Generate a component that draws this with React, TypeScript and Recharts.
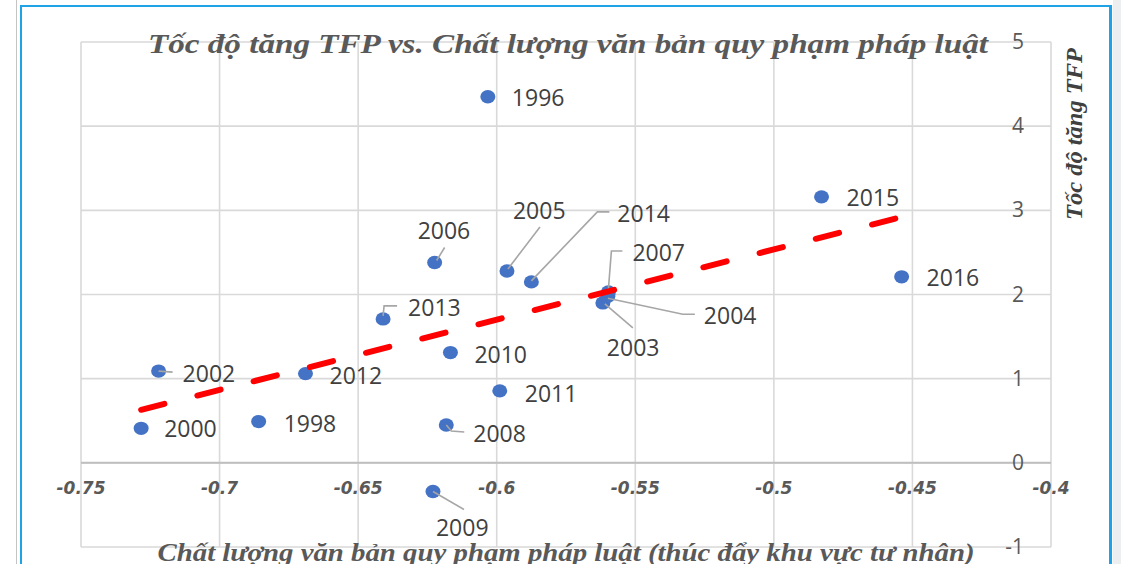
import { ScatterChart, Scatter, XAxis, YAxis, CartesianGrid, ReferenceLine } from "recharts";

// Năm quan sát
const YEARS = [1996, 1998, 2000, 2002, 2003, 2004, 2005, 2006, 2007, 2008, 2009, 2010, 2011, 2012, 2013, 2014, 2015, 2016];
// Chất lượng văn bản quy phạm pháp luật (trục hoành)
const QUALITY = [-0.6032, -0.6859, -0.7283, -0.722, -0.5617, -0.5599, -0.5963, -0.6224, -0.5597, -0.6182, -0.623, -0.6167, -0.5989, -0.669, -0.641, -0.5875, -0.4828, -0.4539];
// Tốc độ tăng TFP (trục tung)
const TFP = [4.35, 0.49, 0.41, 1.09, 1.9, 1.98, 2.28, 2.38, 2.03, 0.45, -0.34, 1.31, 0.855, 1.06, 1.71, 2.15, 3.16, 2.21];

// đường xu hướng tuyến tính
const TREND_X = [-0.7283, -0.4539];
const TREND_Y = [0.63, 2.92];

const X_TICKS = [-0.75, -0.7, -0.65, -0.6, -0.55, -0.5, -0.45, -0.4];
const Y_TICKS = [-1, 0, 1, 2, 3, 4, 5];

const TITLE = "Tốc độ tăng TFP vs. Chất lượng văn bản quy phạm pháp luật";
const X_TITLE = "Chất lượng văn bản quy phạm pháp luật (thúc đẩy khu vực tư nhân)";
const Y_TITLE = "Tốc độ tăng TFP";

const points = YEARS.map((year, i) => ({ year, x: QUALITY[i], y: TFP[i] }));
const trend = TREND_X.map((x, i) => ({ x, y: TREND_Y[i] }));

// vị trí nhãn so với điểm (px), kèm đường dẫn nếu có
const LABEL_POS: Record<number, { dx: number; dy: number; leader?: number[][] }> = {
  1996: { dx: 24, dy: 1 },
  1998: { dx: 25, dy: 2 },
  2000: { dx: 23, dy: 1 },
  2002: { dx: 24, dy: 3, leader: [[0, 0], [14, 1]] },
  2003: { dx: 4, dy: 45, leader: [[2, 1], [30, 25]] },
  2004: { dx: 96, dy: 20, leader: [[0, 2], [75, 18], [87, 18]] },
  2005: { dx: 6, dy: -60, leader: [[1, -2], [33, -44]] },
  2006: { dx: -17, dy: -32, leader: [[2, -2], [10, -15]] },
  2007: { dx: 24, dy: -39, leader: [[0, -3], [3, -41], [14, -41]] },
  2008: { dx: 27, dy: 9, leader: [[0, 0], [5, 6], [18, 7]] },
  2009: { dx: 3, dy: 37, leader: [[0, 0], [31, 18]] },
  2010: { dx: 24, dy: 2 },
  2011: { dx: 25, dy: 3 },
  2012: { dx: 24, dy: 2 },
  2013: { dx: 25, dy: -11, leader: [[0, -3], [1, -13], [14, -13]] },
  2014: { dx: 86, dy: -68, leader: [[0, -1], [66, -70], [78, -70]] },
  2015: { dx: 25, dy: 1 },
  2016: { dx: 25, dy: 1 },
};

const TEXT = "#404040";
const AXIS_TEXT = "#595959";
const BLUE = "#1fa2e6";

function Dot(props: any) {
  const { cx, cy } = props;
  return <ellipse cx={cx} cy={cy} rx={7.5} ry={6.7} fill="#4472c4" />;
}

function YearLabel(props: any) {
  const { cx, cy, payload } = props;
  const pos = LABEL_POS[payload.year] || { dx: 24, dy: 1 };
  return (
    <g>
      {pos.leader && (
        <polyline
          points={pos.leader.map(([a, b]) => `${cx + a},${cy + b}`).join(" ")}
          fill="none"
          stroke="#a6a6a6"
          strokeWidth={1.6}
        />
      )}
      <text
        x={cx + pos.dx}
        y={cy + pos.dy + 8}
        fontFamily="'Open Sans', sans-serif"
        fontSize={23}
        fill={TEXT}
      >
        {payload.year}
      </text>
    </g>
  );
}

function XTick(props: any) {
  const { x, payload } = props;
  return (
    <text
      x={x}
      y={494}
      textAnchor="middle"
      fontFamily="'DejaVu Sans', sans-serif"
      fontWeight="bold"
      fontStyle="italic"
      fontSize={17}
      fill={AXIS_TEXT}
    >
      {String(payload.value)}
    </text>
  );
}

function YTick(props: any) {
  const { y, payload } = props;
  return (
    <text
      x={1024}
      y={y + 7}
      textAnchor="end"
      fontFamily="'Open Sans', sans-serif"
      fontSize={21}
      fill={AXIS_TEXT}
    >
      {String(payload.value)}
    </text>
  );
}

export default function App() {
  return (
    <div
      style={{
        position: "absolute",
        left: 0,
        top: 0,
        width: 1121,
        height: 564,
        overflow: "hidden",
        background: "#fff",
      }}
    >
      {/* khung viền */}
      <div style={{ position: "absolute", left: 1113, top: 0, width: 8, height: 564, background: "#eceef0" }} />
      <div style={{ position: "absolute", left: 16, top: 0, width: 1, height: 564, background: "#c4c4c4" }} />
      <div style={{ position: "absolute", left: 20, top: 5, width: 2, height: 559, background: BLUE }} />
      <div style={{ position: "absolute", left: 20, top: 5, width: 1092, height: 2, background: BLUE }} />
      <div style={{ position: "absolute", left: 1109, top: 5, width: 3, height: 559, background: BLUE }} />

      <div style={{ position: "absolute", left: 0, top: 0 }}>
        <ScatterChart width={1121} height={564} margin={{ top: 42, right: 0, bottom: 0, left: 81 }}>
          <CartesianGrid stroke="#d9d9d9" strokeWidth={1.6} />
          <XAxis
            type="number"
            dataKey="x"
            domain={[-0.75, -0.4]}
            ticks={X_TICKS}
            height={17}
            axisLine={false}
            tickLine={false}
            tick={XTick}
            interval={0}
            allowDataOverflow
          />
          <YAxis
            type="number"
            dataKey="y"
            orientation="right"
            domain={[-1, 5]}
            ticks={Y_TICKS}
            width={70}
            axisLine={false}
            tickLine={false}
            tick={YTick}
            interval={0}
            allowDataOverflow
          />
          <ReferenceLine y={0} stroke="#bfbfbf" strokeWidth={2} />
          <Scatter data={points} shape={Dot} isAnimationActive={false} />
          <Scatter data={points} shape={YearLabel} isAnimationActive={false} />
          <Scatter
            data={trend}
            shape={() => <g />}
            line={{ stroke: "#ff0000", strokeWidth: 6, strokeDasharray: "24 34", strokeLinecap: "round" }}
            isAnimationActive={false}
          />
        </ScatterChart>
      </div>

      <svg
        width={1121}
        height={564}
        style={{ position: "absolute", left: 0, top: 0, pointerEvents: "none" }}
      >
        <text
          x={568}
          y={53}
          textAnchor="middle"
          textLength={840}
          lengthAdjust="spacingAndGlyphs"
          fontFamily="'Liberation Serif', serif"
          fontWeight="bold"
          fontStyle="italic"
          fontSize={28}
          fill={AXIS_TEXT}
        >
          {TITLE}
        </text>
        <text
          x={566}
          y={561}
          textAnchor="middle"
          textLength={817}
          lengthAdjust="spacingAndGlyphs"
          fontFamily="'Liberation Serif', serif"
          fontWeight="bold"
          fontStyle="italic"
          fontSize={25}
          fill={AXIS_TEXT}
        >
          {X_TITLE}
        </text>
        <text
          transform="translate(1082,134) rotate(-90)"
          textAnchor="middle"
          textLength={172}
          lengthAdjust="spacingAndGlyphs"
          fontFamily="'Liberation Serif', serif"
          fontWeight="bold"
          fontStyle="italic"
          fontSize={23}
          fill={TEXT}
        >
          {Y_TITLE}
        </text>
      </svg>
    </div>
  );
}
